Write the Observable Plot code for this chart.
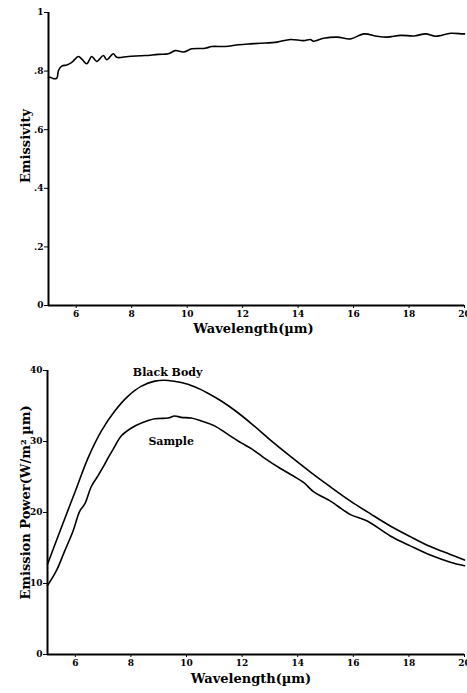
<!DOCTYPE html>
<html><head><meta charset="utf-8">
<script src="https://cdn.jsdelivr.net/npm/d3@7"></script>
<script src="https://cdn.jsdelivr.net/npm/@observablehq/plot@0.6"></script>
<style>
html,body{margin:0;padding:0;background:#fff;}
body{width:467px;height:693px;overflow:hidden;}
#c svg{display:block;}
</style></head><body><div id="c"></div>
<script>
// ---- data ----
const emisWl  = [5.0,5.06,5.18,5.3,5.36,5.48,5.66,5.84,6.08,6.22,6.38,6.56,6.74,6.98,7.1,7.34,7.46,7.88,8.48,8.96,9.32,9.57,9.87,10.17,10.65,10.89,11.37,11.86,12.28,12.64,13.24,13.72,14.2,14.44,14.56,14.92,15.41,15.89,16.37,16.85,17.21,17.7,18.18,18.6,18.96,19.5,19.92,20.0];
const emisVal = [0.778,0.779,0.774,0.776,0.802,0.817,0.821,0.830,0.850,0.839,0.825,0.850,0.833,0.853,0.839,0.859,0.847,0.850,0.853,0.857,0.859,0.870,0.865,0.876,0.878,0.884,0.884,0.890,0.893,0.895,0.899,0.908,0.904,0.908,0.902,0.912,0.916,0.910,0.927,0.919,0.916,0.922,0.920,0.927,0.919,0.929,0.927,0.927];

const bbWl  = [5.0,5.5,6.0,6.46,6.94,7.42,7.9,8.38,8.86,9.34,9.81,10.29,10.77,11.25,11.73,12.31,13.02,13.74,14.46,15.18,15.9,16.62,17.33,18.05,18.77,19.49,20.0];
const bbVal = [12.7,17.9,23.0,27.7,31.5,34.3,36.4,37.8,38.5,38.6,38.3,37.7,36.8,35.7,34.4,32.6,30.2,27.9,25.7,23.6,21.6,19.8,18.1,16.6,15.2,14.1,13.3];

const smWl  = [5.0,5.32,5.62,5.92,6.16,6.34,6.58,6.82,7.06,7.18,7.36,7.66,8.02,8.38,8.86,9.34,9.57,9.81,10.17,10.53,11.01,11.49,11.97,12.33,12.79,13.38,13.86,14.22,14.58,15.18,15.9,16.5,17.33,18.05,18.77,19.49,20.0];
const smVal = [9.7,11.8,14.6,17.4,20.2,21.2,23.7,25.2,26.8,27.7,28.9,30.8,31.9,32.6,33.2,33.3,33.6,33.4,33.3,32.9,32.2,31.0,29.8,29.0,27.7,26.2,25.1,24.2,22.9,21.6,19.7,18.8,16.7,15.3,14.0,13.0,12.5];

const xTicks = [6,8,10,12,14,16,18,20];
const emisTicks = [0,0.2,0.4,0.6,0.8,1];
const emisTickLabels = ["0",".2",".4",".6",".8","1"];
const powerTicks = [0,10,20,30,40];
const xTitle = "Wavelength(µm)";
const emisTitle = "Emissivity";
const powerTitle = "Emission Power(W/m² µm)";
const curveNames = ["Black Body","Sample"];
const curveLabelWl = [9.32, 9.45];
const curveLabelVal = [39.7, 30.0];

// ---- build ----
const zip = (xs, ys) => xs.map((x, i) => ({x, y: ys[i]}));
const font = "'DejaVu Serif', 'Liberation Serif', serif";
const baseStyle = {fontFamily: font, fontWeight: "bold", fontSize: "9px", background: "white", color: "black", overflow: "visible"};

const topChart = Plot.plot({
  width: 467, height: 345,
  marginLeft: 48, marginRight: 3, marginTop: 12, marginBottom: 40,
  style: baseStyle,
  x: {domain: [5, 20], ticks: xTicks, tickSize: 3, tickPadding: 2, label: null},
  y: {domain: [0, 1], ticks: emisTicks, tickFormat: d => emisTickLabels[emisTicks.indexOf(d)], tickSize: 4, tickPadding: 1, label: null},
  marks: [
    Plot.ruleX([5], {strokeWidth: 2}),
    Plot.ruleY([0], {strokeWidth: 2}),
    Plot.line(zip(emisWl, emisVal), {x: "x", y: "y", stroke: "black", strokeWidth: 1.6, curve: "catmull-rom"}),
    Plot.text([xTitle], {text: d => d, frameAnchor: "bottom", dy: 27, dx: -3, fontSize: 13, fontWeight: "bold"}),
    Plot.text([emisTitle], {text: d => d, frameAnchor: "left", textAnchor: "middle", dx: -23, dy: -13, rotate: -90, fontSize: 13, fontWeight: "bold"})
  ]
});

const botChart = Plot.plot({
  width: 467, height: 348,
  marginLeft: 47, marginRight: 3, marginTop: 25, marginBottom: 39,
  style: baseStyle,
  x: {domain: [5, 20], ticks: xTicks, tickSize: 3, tickPadding: 2, label: null},
  y: {domain: [0, 40], ticks: powerTicks, tickSize: 4, tickPadding: 1, label: null},
  marks: [
    Plot.ruleX([5], {strokeWidth: 2}),
    Plot.ruleY([0], {strokeWidth: 2}),
    Plot.line(zip(bbWl, bbVal), {x: "x", y: "y", stroke: "black", strokeWidth: 1.6, curve: "catmull-rom"}),
    Plot.line(zip(smWl, smVal), {x: "x", y: "y", stroke: "black", strokeWidth: 1.6, curve: "catmull-rom"}),
    Plot.text(curveNames.map((n, i) => ({n, x: curveLabelWl[i], y: curveLabelVal[i]})), {x: "x", y: "y", text: "n", fontSize: 11, fontWeight: "bold"}),
    Plot.text([xTitle], {text: d => d, frameAnchor: "bottom", dy: 28, dx: -5, fontSize: 13, fontWeight: "bold"}),
    Plot.text([powerTitle], {text: d => d, frameAnchor: "left", textAnchor: "middle", dx: -22, dy: -10, rotate: -90, fontSize: 13, fontWeight: "bold"})
  ]
});

const c = document.getElementById("c");
c.appendChild(topChart);
c.appendChild(botChart);
</script>
</body></html>
